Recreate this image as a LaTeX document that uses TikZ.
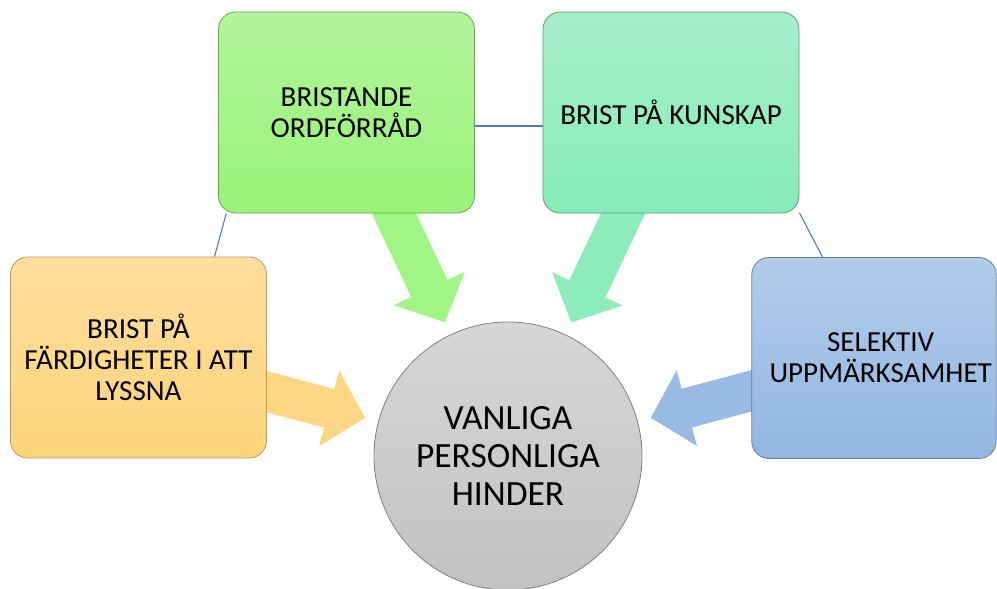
\documentclass[tikz,border=0pt]{standalone}
\usepackage{fontspec}
\setmainfont{Carlito}
\usetikzlibrary{arrows.meta, backgrounds}

\definecolor{grnTop}{RGB}{178,245,156}
\definecolor{grnBot}{RGB}{152,243,120}
\definecolor{grnEdge}{RGB}{105,165,85}
\definecolor{grnArr}{RGB}{160,245,132}
\definecolor{tealTop}{RGB}{166,238,202}
\definecolor{tealBot}{RGB}{134,236,184}
\definecolor{tealEdge}{RGB}{95,155,125}
\definecolor{tealArr}{RGB}{140,236,186}
\definecolor{orgTop}{RGB}{254,222,158}
\definecolor{orgBot}{RGB}{254,212,122}
\definecolor{orgEdge}{RGB}{185,155,95}
\definecolor{orgArr}{RGB}{254,214,132}
\definecolor{bluTop}{RGB}{178,204,234}
\definecolor{bluBot}{RGB}{146,182,226}
\definecolor{bluEdge}{RGB}{105,125,160}
\definecolor{bluArr}{RGB}{152,186,228}
\definecolor{hubTop}{RGB}{214,214,214}
\definecolor{hubBot}{RGB}{194,194,194}
\definecolor{linkblue}{RGB}{80,120,200}

\begin{document}
\begin{tikzpicture}[x=0.75pt, y=-0.75pt,
  box/.style={draw, rectangle, rounded corners=13pt, minimum width=192pt,
    minimum height=150.75pt, align=center, line width=0.6pt,
    font=\fontsize{21.8}{23.2}\selectfont},
  hub/.style={draw=black!50, circle, minimum size=201pt, align=center,
    line width=0.6pt, top color=hubTop, bottom color=hubBot,
    font=\fontsize{26.6}{28.7}\selectfont},
  arrow/.style={line width=30pt, -{Triangle[length=28pt, width=57pt]},
    shorten >=10pt},
  link/.style={draw=linkblue, line width=0.8pt}
]
\useasboundingbox (0,0) rectangle (997,589);
\clip (0,0) rectangle (997,589);

\node[hub] (hinder) at (508,456) {VANLIGA\\PERSONLIGA\\HINDER};
\node[box, draw=grnEdge, top color=grnTop, bottom color=grnBot] (ordf) at (346.5,112.5) {BRISTANDE\\ORDFÖRRÅD};
\node[box, draw=tealEdge, top color=tealTop, bottom color=tealBot] (kunskap) at (671,112.5) {BRIST PÅ KUNSKAP};
\node[box, draw=orgEdge, top color=orgTop, bottom color=orgBot] (lyssna) at (138.5,357.5) {BRIST PÅ\\FÄRDIGHETER I ATT\\LYSSNA};
\node[box, draw=bluEdge, top color=bluTop, bottom color=bluBot, minimum width=183pt] (selektiv) at (874,358) {\hspace*{10pt}SELEKTIV\\\hspace*{10pt}UPPMÄRKSAMHET};

\begin{scope}[on background layer]
\draw[link] (ordf.220) -- (lyssna.53.5);
\draw[link] (ordf.-6.5) -- (kunskap.186.5);
\draw[link] (kunskap.-38.6) -- (selektiv.117.2);

\draw[arrow, grnArr] (ordf.center) -- (hinder);
\draw[arrow, tealArr] (kunskap.center) -- (hinder);
\draw[arrow, orgArr] (lyssna.center) -- (hinder);
\draw[arrow, bluArr] (selektiv.center) -- (hinder);
\end{scope}
\end{tikzpicture}
\end{document}
